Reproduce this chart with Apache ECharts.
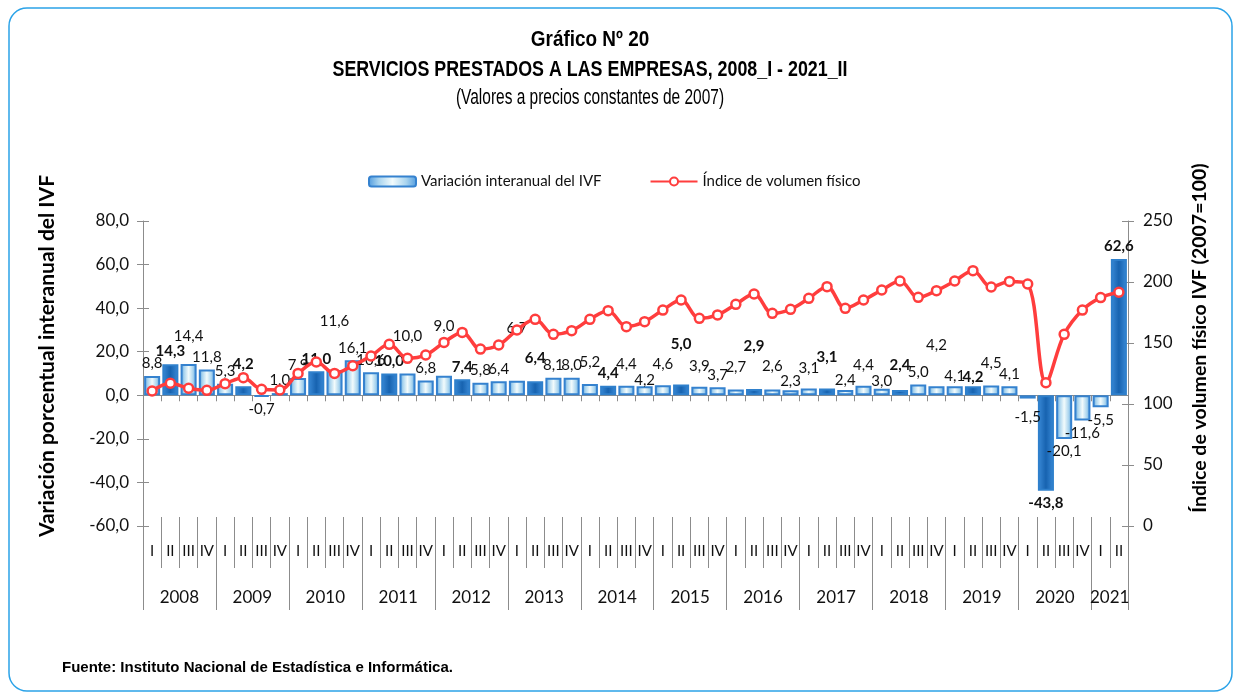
<!DOCTYPE html>
<html>
<head>
<meta charset="utf-8">
<title>Gráfico Nº 20</title>
<script src="https://cdn.jsdelivr.net/npm/echarts@6/dist/echarts.min.js"></script>
<style>
  html, body { margin: 0; padding: 0; background: #fff; }
  #chart { width: 1241px; height: 697px; }
</style>
</head>
<body>
<div id="chart"></div>
<script>
// años y trimestres del eje
var years = ['2008', '2009', '2010', '2011', '2012', '2013', '2014', '2015', '2016', '2017', '2018', '2019', '2020', '2021'];
var quarters = ['I', 'II', 'III', 'IV'];
var quartersPerYear = [4, 4, 4, 4, 4, 4, 4, 4, 4, 4, 4, 4, 4, 2];

// Variación interanual del IVF (%)
var variacion = [
  8.8, 14.3, 14.4, 11.8,
  5.3, 4.2, -0.7, 1.0,
  7.9, 11.0, 11.6, 16.1,
  10.6, 10.0, 10.0, 6.8,
  9.0, 7.4, 5.8, 6.4,
  6.7, 6.4, 8.1, 8.0,
  5.2, 4.4, 4.4, 4.2,
  4.6, 5.0, 3.9, 3.7,
  2.7, 2.9, 2.6, 2.3,
  3.1, 3.1, 2.4, 4.4,
  3.0, 2.4, 5.0, 4.2,
  4.1, 4.2, 4.5, 4.1,
  -1.5, -43.8, -20.1, -11.6,
  -5.5, 62.6
];

// Índice de volumen físico (2007=100)
var indice = [
  110.7, 117.0, 112.9, 111.2,
  116.7, 121.6, 112.0, 111.5,
  125.1, 134.4, 125.1, 131.4,
  139.3, 148.9, 137.4, 140.2,
  150.5, 158.7, 145.0, 148.4,
  160.7, 169.4, 157.1, 160.1,
  169.4, 176.5, 163.4, 167.5,
  177.0, 185.2, 170.2, 173.0,
  181.7, 190.2, 174.3, 177.6,
  186.6, 196.2, 178.4, 185.2,
  193.4, 200.8, 187.4, 192.9,
  200.8, 209.3, 195.9, 200.5,
  198.4, 117.5, 157.1, 177.0,
  187.2, 191.6
];

// etiquetas que en el original están desplazadas (px hacia arriba; hacia abajo si es negativo el valor)
var labelLift = {2: 15, 5: 9, 10: 36, 14: 25, 16: 37, 20: 40, 21: 11, 24: 9, 26: 9, 27: -7, 28: 9, 29: 28,
  30: 8, 32: 10, 33: 30, 34: 11, 35: -3, 36: 8, 37: 19, 38: -3, 39: 8, 40: -5, 41: 12, 43: 28, 44: -2,
  45: -4, 46: 10, 48: 6};

var catKeys = [];
var yearStart = {};
var yearLabelAt = {};
years.forEach(function (y, k) {
  var n = quartersPerYear[k];
  var start = catKeys.length;
  for (var q = 0; q < n; q++) catKeys.push(y + '_' + quarters[q]);
  yearStart[start] = true;
  yearLabelAt[start + n / 2 - 1] = true;
});

function coma(v, d) {
  return v.toFixed(d).replace('.', ',');
}

var G = echarts.graphic;
var lightBar = {
  color: new G.LinearGradient(0, 0, 1, 0, [
    {offset: 0, color: '#4f9ade'},
    {offset: 0.22, color: '#a9d4ee'},
    {offset: 0.5, color: '#f2fbfc'},
    {offset: 0.78, color: '#a9d4ee'},
    {offset: 1, color: '#4f9ade'}
  ]),
  borderColor: '#3582cf',
  borderWidth: 2
};
var darkBar = {
  color: new G.LinearGradient(0, 0, 1, 0, [
    {offset: 0, color: '#3b8bd8'},
    {offset: 0.5, color: '#1763b0'},
    {offset: 1, color: '#3b8bd8'}
  ]),
  borderColor: '#2f80cc',
  borderWidth: 2
};

var barData = variacion.map(function (v, i) {
  var isII = catKeys[i].split('_')[1] === 'II';
  var lift = labelLift[i] || 0;
  var item = {
    value: v,
    label: {
      position: v < 0 ? 'bottom' : 'top',
      fontWeight: isII ? 'bold' : 'normal',
      offset: [0, v < 0 ? lift : -lift]
    }
  };
  if (isII) item.itemStyle = darkBar;
  return item;
});

var axisGrey = '#8c8c8c';
var font = 'Lato';
var titleFont = '"Liberation Sans Narrow", "Liberation Sans"';

var chart = echarts.init(document.getElementById('chart'));
chart.setOption({
  animation: false,
  grid: {left: 143, right: 113, top: 221, bottom: 171, containLabel: false, outerBoundsMode: 'none'},
  legend: {
    left: 368, top: 174, padding: 0,
    itemWidth: 47, itemHeight: 10, itemGap: 48,
    textStyle: {fontFamily: font, fontSize: 15, color: '#111'},
    data: ['Variación interanual del IVF', 'Índice de volumen físico']
  },
  xAxis: [
    { // trimestres
      type: 'category', data: catKeys, position: 'bottom', offset: -9,
      axisLine: {show: false, onZero: false},
      axisTick: {show: true, interval: 0, length: 51, lineStyle: {color: axisGrey}},
      axisLabel: {interval: 0, margin: 27, fontFamily: font, fontSize: 15, color: '#111',
        formatter: function (v) { return v.split('_')[1]; }}
    },
    { // años
      type: 'category', data: catKeys, position: 'bottom', offset: -9,
      axisLine: {show: false, onZero: false},
      axisTick: {show: true, length: 93, lineStyle: {color: axisGrey},
        interval: function (i) { return !!yearStart[i]; }},
      axisLabel: {margin: 72, fontFamily: font, fontSize: 17, color: '#111', padding: [0, 0, 0, 18],
        interval: function (i) { return !!yearLabelAt[i]; },
        formatter: function (v) { return v.split('_')[0]; }}
    },
    { // línea del cero
      type: 'category', data: catKeys, position: 'bottom',
      axisLine: {show: true, onZero: true, onZeroAxisIndex: 0, lineStyle: {color: axisGrey}},
      axisTick: {show: true, interval: 0, length: 6, lineStyle: {color: axisGrey}},
      axisLabel: {show: false}
    }
  ],
  yAxis: [
    {
      type: 'value', min: -60, max: 80, interval: 20, position: 'left',
      axisLine: {show: true, lineStyle: {color: axisGrey}},
      axisTick: {show: true, length: 6, lineStyle: {color: axisGrey}},
      splitLine: {show: false},
      axisLabel: {margin: 14, fontFamily: font, fontSize: 17, color: '#111',
        formatter: function (v) { return coma(v, 1); }}
    },
    {
      type: 'value', min: 0, max: 250, interval: 50, position: 'right',
      axisLine: {show: true, lineStyle: {color: axisGrey}},
      axisTick: {show: true, length: 6, lineStyle: {color: axisGrey}},
      splitLine: {show: false},
      axisLabel: {margin: 15, fontFamily: font, fontSize: 17, color: '#111'}
    },
    { // marcas cruzadas por dentro
      type: 'value', min: -60, max: 80, interval: 20, position: 'left',
      axisLine: {show: false}, splitLine: {show: false}, axisLabel: {show: false},
      axisTick: {show: true, inside: true, length: 6, lineStyle: {color: axisGrey}}
    },
    {
      type: 'value', min: 0, max: 250, interval: 50, position: 'right',
      axisLine: {show: false}, splitLine: {show: false}, axisLabel: {show: false},
      axisTick: {show: true, inside: true, length: 6, lineStyle: {color: axisGrey}}
    }
  ],
  series: [
    {
      name: 'Variación interanual del IVF',
      type: 'bar',
      xAxisIndex: 0, yAxisIndex: 0,
      barCategoryGap: '12%',
      itemStyle: lightBar,
      label: {
        show: true, distance: 5, fontFamily: font, fontSize: 15, color: '#111',
        formatter: function (p) { return coma(p.value, 1); }
      },
      data: barData
    },
    {
      name: 'Índice de volumen físico',
      type: 'line',
      xAxisIndex: 0, yAxisIndex: 1,
      smooth: 0.35,
      symbol: 'circle', symbolSize: 9,
      lineStyle: {color: '#ff3d3d', width: 3.5},
      itemStyle: {color: '#fff', borderColor: '#ff3d3d', borderWidth: 2.5},
      z: 5,
      data: indice
    }
  ],
  graphic: [
    {type: 'rect', shape: {x: 9, y: 8, width: 1223, height: 683, r: 18},
      style: {fill: 'none', stroke: '#2ba3e8', lineWidth: 1.5}, silent: true},
    {type: 'text', x: 590, y: 40, scaleX: 0.88, style: {text: 'Gráfico Nº 20', align: 'center', verticalAlign: 'middle',
      fontFamily: titleFont, fontWeight: 'bold', fontSize: 21.5, fill: '#000'}},
    {type: 'text', x: 590, y: 70, scaleX: 0.83, style: {text: 'SERVICIOS PRESTADOS A LAS EMPRESAS, 2008_I - 2021_II', align: 'center', verticalAlign: 'middle',
      fontFamily: titleFont, fontWeight: 'bold', fontSize: 21.5, fill: '#000'}},
    {type: 'text', x: 590, y: 98, scaleX: 0.72, style: {text: '(Valores a precios constantes de 2007)', align: 'center', verticalAlign: 'middle',
      fontFamily: titleFont, fontSize: 21.5, fill: '#000'}},
    {type: 'text', x: 47, y: 356, rotation: Math.PI / 2, style: {text: 'Variación porcentual interanual del IVF',
      align: 'center', verticalAlign: 'middle', fontFamily: font, fontWeight: 'bold', fontSize: 21, fill: '#000'}},
    {type: 'text', x: 1200, y: 338, rotation: Math.PI / 2, style: {text: 'Índice de volumen físico IVF (2007=100)',
      align: 'center', verticalAlign: 'middle', fontFamily: font, fontWeight: 'bold', fontSize: 19.5, fill: '#000'}},
    {type: 'text', x: 62, y: 668, style: {text: 'Fuente: Instituto Nacional de Estadística e Informática.',
      align: 'left', verticalAlign: 'middle', fontFamily: titleFont, fontWeight: 'bold', fontSize: 15, fill: '#000'}}
  ]
});
</script>
</body>
</html>
